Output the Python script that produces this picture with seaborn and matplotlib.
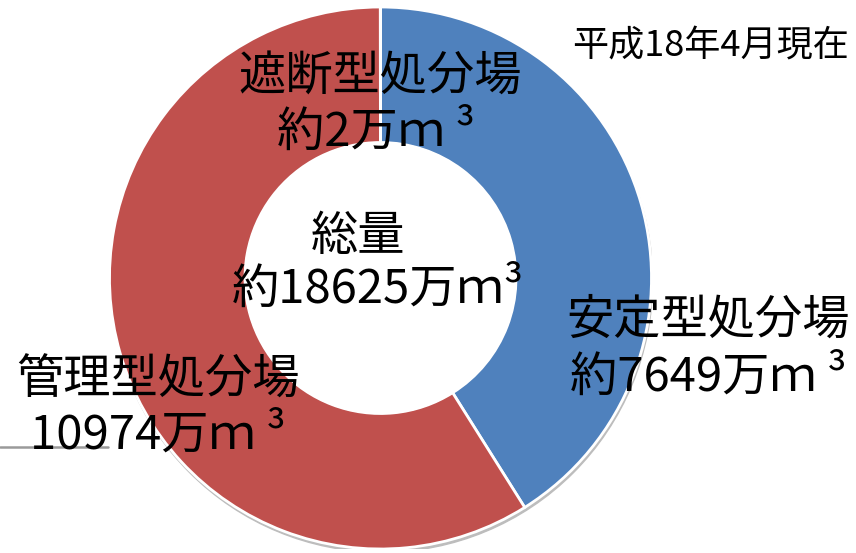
import matplotlib
matplotlib.use("Agg")
import matplotlib.pyplot as plt
import seaborn as sns
from matplotlib.lines import Line2D
from matplotlib.patches import Circle

# ---- data ----
categories = ["安定型処分場", "管理型処分場", "遮断型処分場"]
values = [7649, 10974, 2]
value_labels = ["約7649万ｍ ³", "10974万ｍ ³", "約2万ｍ ³"]
total_title = "総量"
total_label = "約18625万ｍ³"
date_note = "平成18年4月現在"

sns.set_style("white")
plt.rcParams['font.family'] = ['Noto Sans CJK JP', 'DejaVu Sans']

colors = ["#4F81BD", "#C0504D", "#9BBB59"]

W, H = 856, 553
fig = plt.figure(figsize=(W / 100, H / 100), dpi=100)

cx, cy, R = 380.5, 278, 271
ax = fig.add_axes([(cx - R) / W, (H - cy - R) / H, 2 * R / W, 2 * R / H])
ax.set_xlim(-1, 1)
ax.set_ylim(-1, 1)
ax.axis("off")

# subtle shadow behind ring
ax.add_patch(Circle((0.004, -0.012), 1.0, color="#bdbdbd", zorder=0))
wedges, _ = ax.pie(values, colors=colors, startangle=90, counterclock=False,
                   radius=1.0, wedgeprops=dict(width=0.5, edgecolor="white", linewidth=2),
                   normalize=True)
for w in wedges:
    w.set_zorder(1)
ax.add_patch(Circle((0.0, 0.0), 0.5, color="white", zorder=2))
ax.set_xlim(-1, 1)
ax.set_ylim(-1, 1)


def px(x, y):
    return x / W, 1 - y / H


# gray line at left
fig.add_artist(Line2D([0, 108 / W], [1 - 447 / H, 1 - 447 / H], color="#9a9a9a", lw=1.8, zorder=0))

fs = 34
txt = [
    (380, 77, categories[2], fs),
    (376, 133, value_labels[2], fs),
    (358, 237, total_title, fs),
    (378, 290, total_label, fs),
    (708, 320, categories[0], fs),
    (708, 378, value_labels[0], fs),
    (158, 380, categories[1], fs),
    (158, 435, value_labels[1], fs),
    (711, 46, date_note, 26),
]
for x, y, s, size in txt:
    fig.text(*px(x, y), s, ha="center", va="center", fontsize=size, color="black", zorder=5)

fig.savefig("out.png", dpi=100)
